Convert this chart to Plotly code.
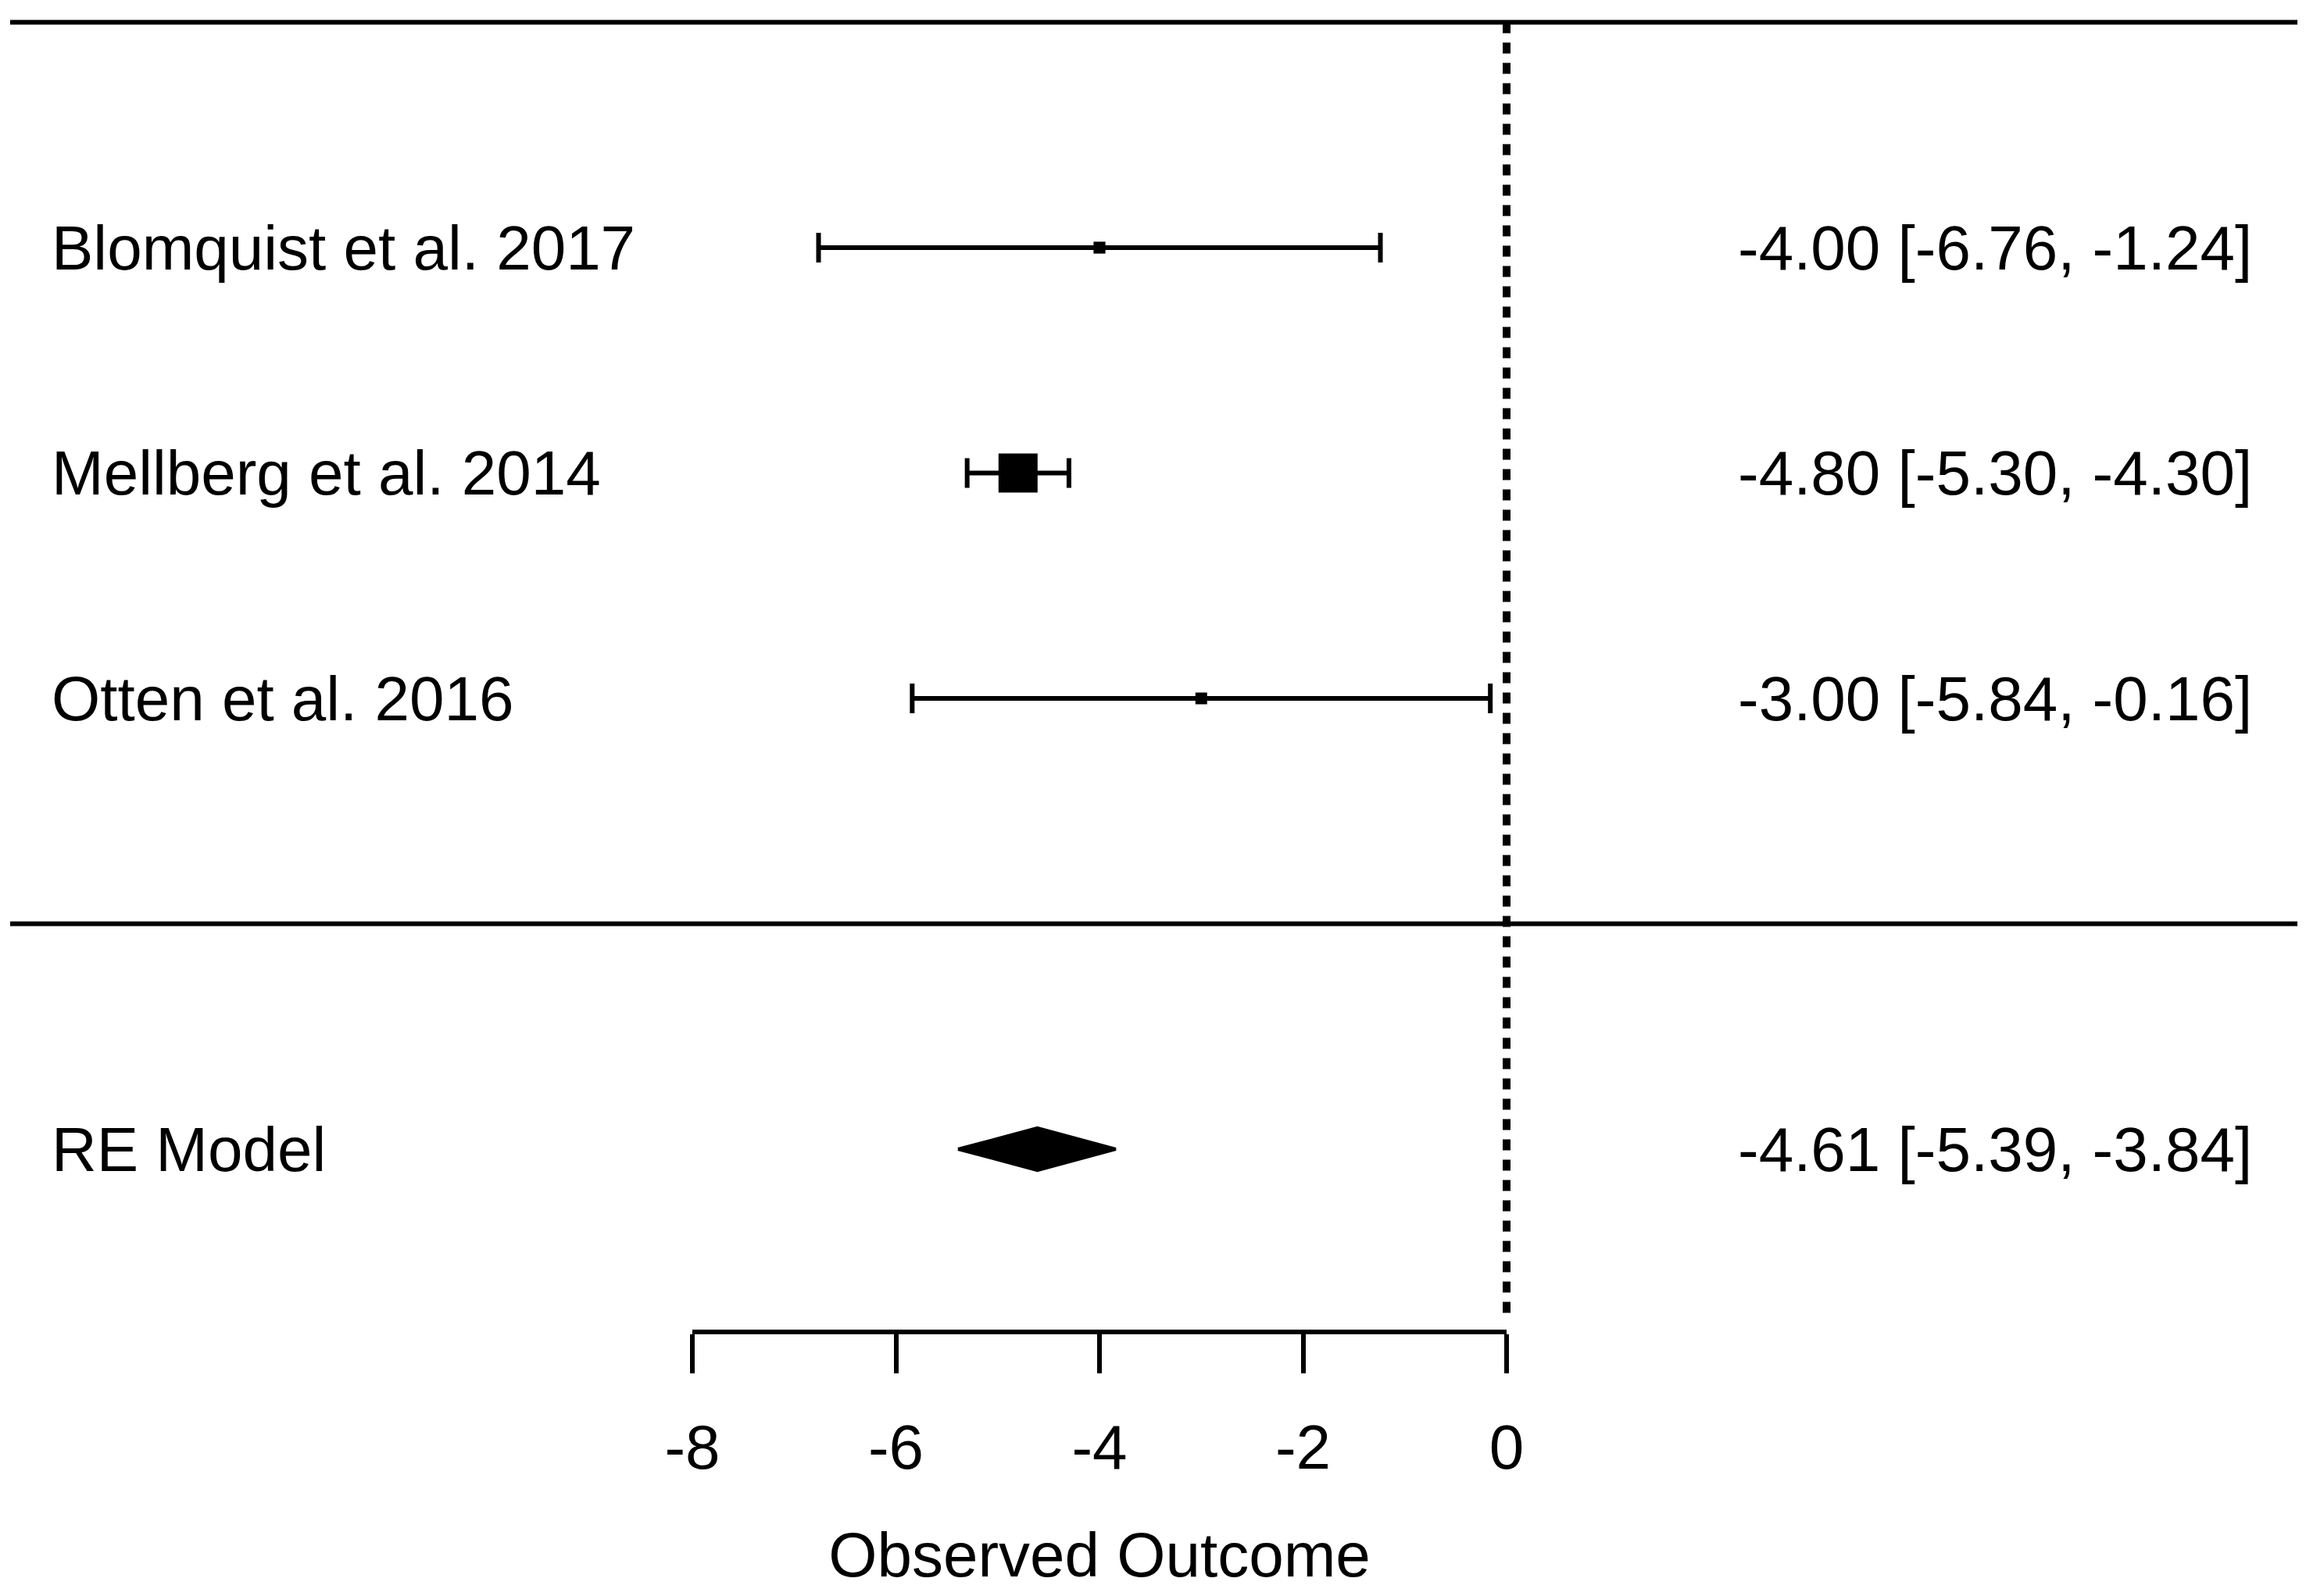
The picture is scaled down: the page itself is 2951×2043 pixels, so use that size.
import plotly.graph_objects as go

# study data
studies = ["Blomquist et al. 2017", "Mellberg et al. 2014", "Otten et al. 2016"]
estimates = [-4.00, -4.80, -3.00]
ci_lower = [-6.76, -5.30, -5.84]
ci_upper = [-1.24, -4.30, -0.16]
rows = [3, 2, 1]

# random-effects summary
model_label = "RE Model"
model_est = -4.61
model_lower = -5.39
model_upper = -3.84
model_row = -1

x_ticks = [-8, -6, -4, -2, 0]

# page is 2951x2043, body has an 8px margin on each side
PAD = 8
W, H = 2951 - 2 * PAD, 2043 - 2 * PAD
FONT = "Liberation Sans, Arial, sans-serif"
LW = 6

# marker size from precision (1/SE taken from the CI width)
prec = [1 / ((hi - lo) / 2 / 1.96) for lo, hi in zip(ci_lower, ci_upper)]
pmin, pmax = min(prec), max(prec)
sizes = [15 + 35 * (p - pmin) / (pmax - pmin) for p in prec]

fig = go.Figure()

# reference line at 0
fig.add_trace(go.Scatter(
    x=[0, 0], y=[4, -1.76], mode="lines",
    line=dict(color="black", width=10, dash="14px,12px"),
    hoverinfo="skip",
))

# study CIs and point estimates
fig.add_trace(go.Scatter(
    x=estimates, y=rows, mode="markers",
    marker=dict(symbol="square", size=sizes, color="black", opacity=1,
                line=dict(width=0)),
    error_x=dict(
        type="data", symmetric=False,
        array=[hi - e for e, hi in zip(estimates, ci_upper)],
        arrayminus=[e - lo for e, lo in zip(estimates, ci_lower)],
        color="black", thickness=LW, width=19,
    ),
))

# summary diamond
h = 0.094
fig.add_trace(go.Scatter(
    x=[model_lower, model_est, model_upper, model_est, model_lower],
    y=[model_row, model_row + h, model_row, model_row - h, model_row],
    mode="lines", fill="toself", fillcolor="black",
    line=dict(color="black", width=4),
))

# invisible trace to hold the visible outcome axis
fig.add_trace(go.Scatter(x=[x_ticks[0], x_ticks[-1]], y=[None, None],
                         xaxis="x2", yaxis="y", mode="markers",
                         marker=dict(opacity=0), hoverinfo="skip"))

# separators
for yy in [4, 0]:
    fig.add_shape(type="line", xref="paper", yref="y",
                  x0=(13 - PAD) / W, x1=(2940 - PAD) / W, y0=yy, y1=yy,
                  line=dict(color="black", width=LW))

# left labels and right-hand estimates
labels = studies + [model_label]
ests = estimates + [model_est]
los = ci_lower + [model_lower]
his = ci_upper + [model_upper]
ys = rows + [model_row]
for lab, e, lo, hi, yy in zip(labels, ests, los, his, ys):
    fig.add_annotation(x=(64 - PAD) / W, xref="paper", y=yy, yref="y", text=lab,
                       showarrow=False, xanchor="left", yanchor="middle",
                       font=dict(size=80, color="black", family=FONT))
    fig.add_annotation(x=(2884 - PAD) / W, xref="paper", y=yy, yref="y",
                       text=f"{e:.2f} [{lo:.2f}, {hi:.2f}]",
                       showarrow=False, xanchor="right", yanchor="middle",
                       font=dict(size=80, color="black", family=FONT))

# pixel anchors: -8 at 886, 0 at 1928, row 3 at 317, axis line at 1705
x_m8, x_0 = 886 - PAD, 1928 - PAD
unit_x = (x_0 - x_m8) / 8
unit_y = 288.5
row3 = 317 - PAD
fig.update_layout(
    template="none",
    width=W, height=H,
    margin=dict(l=0, r=0, t=0, b=0, pad=0),
    paper_bgcolor="white", plot_bgcolor="rgba(0,0,0,0)",
    showlegend=False,
    font=dict(family=FONT, color="black"),
    xaxis=dict(range=[-x_0 / unit_x, (W - x_0) / unit_x], visible=False,
               domain=[0, 1], automargin=False),
    yaxis=dict(range=[3 - (H - row3) / unit_y, 3 + row3 / unit_y], visible=False,
               domain=[0, 1], automargin=False),
    xaxis2=dict(
        domain=[x_m8 / W, x_0 / W], range=[x_ticks[0], x_ticks[-1]],
        anchor="free", position=1 - (1705 - PAD) / H, automargin=False,
        tickvals=x_ticks, ticktext=[str(t) for t in x_ticks],
        ticks="outside", ticklen=50, tickwidth=LW, tickcolor="black",
        showline=True, linewidth=LW, linecolor="black",
        showgrid=False, zeroline=False,
        tickfont=dict(size=80, color="black", family=FONT),
        ticklabelstandoff=26,
        title=dict(text="Observed Outcome", standoff=65,
                   font=dict(size=80, color="black", family=FONT)),
    ),
)

fig.write_html("out.html")
